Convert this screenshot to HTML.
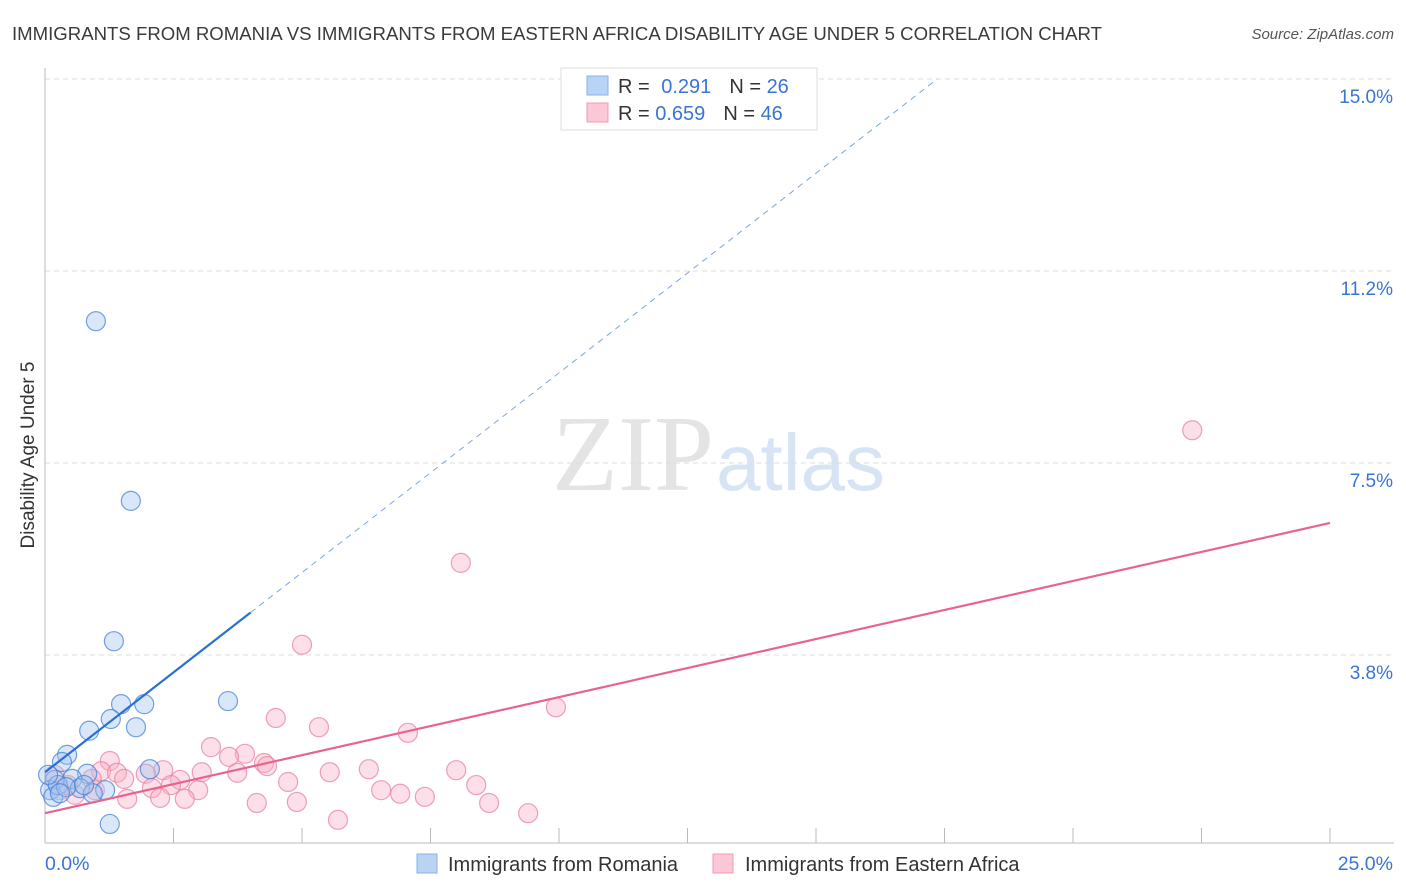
<!DOCTYPE html>
<html><head><meta charset="utf-8"><style>
body{margin:0;background:#fff;font-family:"Liberation Sans",sans-serif;}
svg{display:block}
</style></head><body>
<svg id="chart" width="1406" height="892" viewBox="0 0 1406 892">
<text x="12" y="40" font-size="18.6" fill="#3a3a3a">IMMIGRANTS FROM ROMANIA VS IMMIGRANTS FROM EASTERN AFRICA DISABILITY AGE UNDER 5 CORRELATION CHART</text>
<text x="1394" y="39" font-size="15" font-style="italic" fill="#555" text-anchor="end">Source: ZipAtlas.com</text>
<text x="714" y="490" font-size="108" font-family="Liberation Serif,serif" fill="#e4e4e4" text-anchor="end">ZIP</text>
<text x="716" y="490" font-size="80" fill="#d6e4f5">atlas</text>
<text transform="translate(34,455) rotate(-90)" font-size="19" fill="#333" text-anchor="middle">Disability Age Under 5</text>
<g id="grid"></g>
<g id="marks"></g>
<g>
<rect x="561" y="68" width="256" height="62" fill="#fff" stroke="#ddd"/>
<rect x="587" y="76" width="21" height="19" fill="#b9d3f5" stroke="#8ab2e8"/>
<rect x="587" y="103" width="21" height="19" fill="#fcc7d6" stroke="#f19ab5"/>
<text x="618" y="93" font-size="20" fill="#333">R = <tspan fill="#3a74d4" dx="6">0.291</tspan><tspan dx="18" fill="#333">N = </tspan><tspan fill="#3a74d4">26</tspan></text>
<text x="618" y="120" font-size="20" fill="#333">R = <tspan fill="#3a74d4">0.659</tspan><tspan dx="18" fill="#333">N = </tspan><tspan fill="#3a74d4">46</tspan></text>
</g>
<g>
<rect x="417" y="854" width="20" height="19" fill="#b9d3f5" stroke="#8ab2e8"/>
<text x="448" y="871" font-size="20" fill="#333">Immigrants from Romania</text>
<rect x="713" y="854" width="20" height="19" fill="#fcc7d6" stroke="#f19ab5"/>
<text x="745" y="871" font-size="20" fill="#333">Immigrants from Eastern Africa</text>
</g>
</svg>
<script>
const yTicks=[3.75,7.5,11.25,15];
const yTickLabels=["3.8%","7.5%","11.2%","15.0%"];
const xTickLabels=["0.0%","25.0%"];
const romaniaX=[0.99,1.67,1.34,3.56,1.48,1.93,1.28,0.86,1.77,0.43,0.33,2.04,0.82,0.53,0.19,0.10,0.68,1.17,0.93,0.16,1.26,0.25,0.06,0.41,0.29,0.76];
const romaniaY=[10.27,6.76,4.02,2.85,2.79,2.79,2.50,2.27,2.34,1.80,1.66,1.52,1.43,1.33,1.31,1.11,1.15,1.11,1.05,0.98,0.45,1.21,1.41,1.17,1.05,1.21];
const africaX=[22.32,8.09,5.00,9.94,4.49,5.33,7.06,3.23,3.89,3.58,1.26,4.26,4.32,2.30,1.09,6.30,8.00,1.40,5.54,3.74,3.05,1.96,2.63,4.73,8.39,2.45,1.54,0.91,2.08,6.54,6.91,7.39,2.98,1.60,2.24,2.72,4.12,4.90,8.64,5.70,9.40,0.19,0.29,0.58,0.45,0.97];
const africaY=[8.14,5.55,3.95,2.73,2.52,2.34,2.23,1.95,1.82,1.76,1.68,1.64,1.58,1.50,1.48,1.52,1.50,1.45,1.46,1.45,1.46,1.43,1.31,1.27,1.21,1.21,1.33,1.33,1.15,1.11,1.04,0.98,1.11,0.94,0.96,0.94,0.86,0.88,0.86,0.53,0.66,1.41,1.11,1.02,1.21,1.11];
const romaniaTrend=[1.46,0.78]; // intercept, slope
const africaTrend=[0.66,0.2268];
const NS="http://www.w3.org/2000/svg";
const X=v=>45+v/25*1285;
const Y=v=>847-v/3.75*192;
function mk(t,a,p){const e=document.createElementNS(NS,t);for(const k in a)e.setAttribute(k,a[k]);p.appendChild(e);return e;}
const grid=document.getElementById('grid'),marks=document.getElementById('marks');
yTicks.forEach((t,i)=>{
 const l=mk('line',{x1:45,x2:1394,y1:Y(t),y2:Y(t),stroke:'#ddd','stroke-dasharray':'5,4'},grid);
 
 
 const tx=mk('text',{x:1393,y:Y(t)+24,'font-size':19,fill:'#3a74d4','text-anchor':'end'},grid);
 tx.textContent=yTickLabels[i];
 
 
});
mk('line',{x1:45,x2:45,y1:68,y2:843,stroke:'#bbb'},grid);
mk('line',{x1:45,x2:1394,y1:843,y2:843,stroke:'#bbb'},grid);
for(let i=1;i<=10;i++){const t=mk('line',{x1:X(i*2.5),x2:X(i*2.5),y1:828,y2:843,stroke:'#bbb'},grid);}
[[0,45,'start'],[25,1393,'end']].forEach((d,i)=>{const t=mk('text',{x:d[1],y:870,'font-size':19.5,fill:'#3a74d4','text-anchor':d[2]},grid);t.textContent=xTickLabels[i];});
function dots(xs,ys,fill,stroke,name){xs.forEach((x,i)=>{const c=mk('circle',{cx:X(x),cy:Y(ys[i]),r:9.5,fill:fill,stroke:stroke,'stroke-width':1.2},marks);});}
dots(africaX,africaY,'rgba(248,176,198,0.4)','rgba(232,130,160,0.75)','eastern-africa-point');
dots(romaniaX,romaniaY,'rgba(160,196,240,0.4)','rgba(70,130,215,0.75)','romania-point');
const rEnd=4.0, rDash=(15-romaniaTrend[0])/romaniaTrend[1];
let l=mk('line',{x1:X(0),y1:Y(romaniaTrend[0]),x2:X(rEnd),y2:Y(romaniaTrend[0]+romaniaTrend[1]*rEnd),stroke:'#2a6fd6','stroke-width':2.2},marks);


l=mk('line',{x1:X(rEnd),y1:Y(romaniaTrend[0]+romaniaTrend[1]*rEnd),x2:X(rDash),y2:Y(15),stroke:'#7aa6e0','stroke-width':1,'stroke-dasharray':'6,5'},marks);


l=mk('line',{x1:X(0),y1:Y(africaTrend[0]),x2:X(25),y2:Y(africaTrend[0]+africaTrend[1]*25),stroke:'#e8648f','stroke-width':2.2},marks);


</script>
</body></html>
